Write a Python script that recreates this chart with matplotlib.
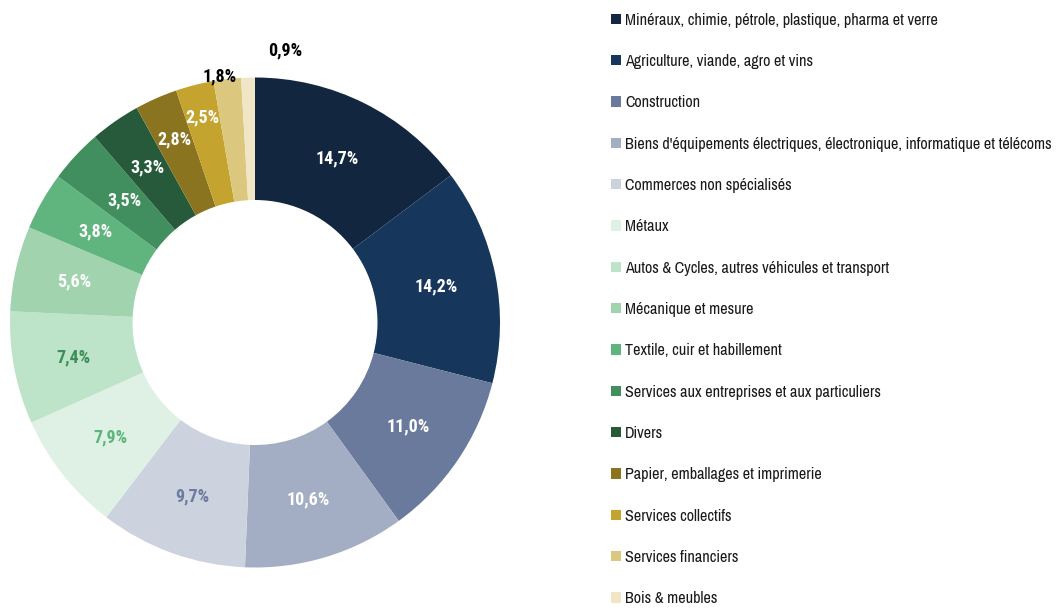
import matplotlib
matplotlib.use("Agg")
import matplotlib.pyplot as plt
from matplotlib.patches import Patch
import numpy as np
from matplotlib import font_manager

categories = [
    "Minéraux, chimie, pétrole, plastique, pharma et verre",
    "Agriculture, viande, agro et vins",
    "Construction",
    "Biens d'équipements électriques, électronique, informatique et télécoms",
    "Commerces non spécialisés",
    "Métaux",
    "Autos & Cycles, autres véhicules et transport",
    "Mécanique et mesure",
    "Textile, cuir et habillement",
    "Services aux entreprises et aux particuliers",
    "Divers",
    "Papier, emballages et imprimerie",
    "Services collectifs",
    "Services financiers",
    "Bois & meubles",
]
values = [14.7, 14.2, 11.0, 10.6, 9.7, 7.9, 7.4, 5.6, 3.8, 3.5, 3.3, 2.8, 2.5, 1.8, 0.9]
labels = ["14,7%", "14,2%", "11,0%", "10,6%", "9,7%", "7,9%", "7,4%", "5,6%",
          "3,8%", "3,5%", "3,3%", "2,8%", "2,5%", "1,8%", "0,9%"]
colors = ["#12263f", "#17365c", "#6a7a9c", "#a3adc3", "#cdd2df", "#dff0e4",
          "#bde3c8", "#a1d4ae", "#60b57e", "#418f5e", "#265a3a", "#8b7420",
          "#c4a32e", "#dcc77e", "#f0e6c6"]
label_colors = ["white", "white", "white", "white", "#6b7a9e", "#5cb67a",
                "#3e8e5a", "white", "white", "white", "white", "white",
                "white", "black", "black"]
# radial placement of each percentage label (fraction of outer radius)
label_radius = [0.75, 0.755, 0.755, 0.755, 0.755, 0.755, 0.755, 0.755,
                0.75, 0.73, 0.77, 0.815, 0.865, 1.02, 1.12]

fl = font_manager.fontManager.ttflist
names = {f.name for f in fl}


def has_bold(name):
    return any(f.name == name and (f.weight in (700, "bold")) for f in fl)


fam = "Liberation Sans"
for cand in ["Archivo Narrow", "Roboto Condensed", "PT Sans Narrow"]:
    if cand in names:
        fam = cand
        break
bold_fam = "Liberation Sans"
for cand in ["Roboto Condensed", "Archivo Narrow", "PT Sans Narrow", "Asap Condensed",
             "Barlow Condensed", "Open Sans Condensed"]:
    if has_bold(cand):
        bold_fam = cand
        break
plt.rcParams["font.family"] = [fam, "DejaVu Sans"]

W, H = 1059, 609
fig = plt.figure(figsize=(W / 100, H / 100), dpi=100)
cx, cy, R = 255, 322.5, 245
ax = fig.add_axes([(cx - R) / W, (H - cy - R) / H, 2 * R / W, 2 * R / H])
wedges, _ = ax.pie(values, colors=colors, startangle=90, counterclock=False,
                   radius=1.0, wedgeprops=dict(width=0.5, edgecolor="none"))
ax.set_xlim(-1, 1)
ax.set_ylim(-1, 1)
ax.set_aspect("equal")
ax.axis("off")

for i, w in enumerate(wedges):
    ang = np.deg2rad((w.theta1 + w.theta2) / 2)
    r = label_radius[i]
    if i == len(wedges) - 2:
        x, y = r * np.cos(ang) - 0.03, r * np.sin(ang) - 0.01
    elif i == len(wedges) - 1:
        x, y = 0.125, 1.112
    else:
        x, y = r * np.cos(ang), r * np.sin(ang)
    ax.text(x, y, labels[i], ha="center", va="center", color=label_colors[i],
            fontsize=13, fontweight="bold", family=[bold_fam, "DejaVu Sans"],
            clip_on=False)

handles = [Patch(facecolor=c, edgecolor="none") for c in colors]
leg = fig.legend(handles, categories, loc="upper left",
                 bbox_to_anchor=(611 / W, 1 - 12.5 / H), frameon=False,
                 fontsize=11.6, handlelength=0.62, handleheight=0.62,
                 handletextpad=0.25, labelspacing=1.635, borderaxespad=0,
                 borderpad=0)
for t in leg.get_texts():
    t.set_color("#1a1a1a")

fig.savefig("out.png", dpi=100)
